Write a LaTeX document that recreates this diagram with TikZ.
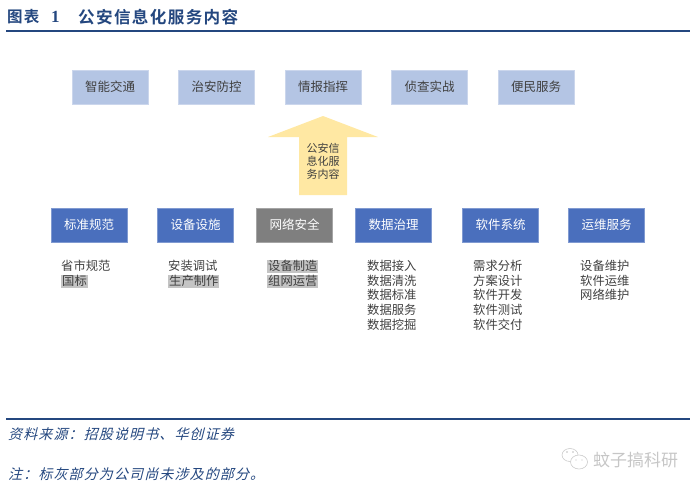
\documentclass[tikz,border=0pt]{standalone}
\usepackage{fontspec}
\setmainfont{Noto Sans CJK SC}
\newfontfamily\titlefont[LetterSpace=8]{Noto Sans CJK SC Bold}
\newfontfamily\numfont{Liberation Serif}
\newfontfamily\notefont[FakeSlant=0.25,LetterSpace=8]{Noto Sans CJK SC}
\definecolor{ruleblue}{HTML}{24477F}
\definecolor{paleblue}{HTML}{B4C5E4}
\definecolor{midblue}{HTML}{4A6FBD}
\definecolor{midgray}{HTML}{7F7F7F}
\definecolor{palegold}{HTML}{FFE8A3}
\definecolor{textgray}{HTML}{404040}
\definecolor{markgray}{HTML}{C4C4C4}
\tikzset{
	topbox/.style={rectangle, fill=paleblue, draw=paleblue!70!white, line width=0.6pt, minimum width=76, minimum height=34, inner sep=0, text=textgray, font=\fontsize{12.5}{12.5}\selectfont},
	basebox/.style={rectangle, fill=midblue, draw=midblue!70!white, line width=0.6pt, minimum width=76, minimum height=34, inner sep=0, text=white, font=\fontsize{12.5}{12.5}\selectfont},
	graybox/.style={basebox, fill=midgray, draw=midgray!70!white},
	item/.style={anchor=west, inner sep=0, text=textgray, font=\fontsize{12.3}{12.3}\selectfont},
	markitem/.style={item, fill=markgray, inner xsep=1, inner ysep=0.5, text height=10.5, text depth=1.5},
	toprule/.style={draw=ruleblue, line width=1.6},
	note/.style={anchor=west, inner sep=0, text=ruleblue, font=\fontsize{14}{14}\notefont}
}
\begin{document}
\begin{tikzpicture}[x=1pt, y=-1pt]
	%%%%% START %%%%%
	\useasboundingbox (0, 0) rectangle (700, 490);

	% header
	\coordinate (headl) at (6, 31);
	\coordinate (headr) at (690, 31);
	\draw[toprule] (headl) -- (headr);
	\node[anchor=west, inner sep=0, text=ruleblue] (fignum) at (7, 17) {\fontsize{15.5}{15.5}\titlefont 图表};
	\node[anchor=west, inner sep=0, text=ruleblue] (fignr) at (51, 17) {\fontsize{17}{17}\numfont\bfseries 1};
	\node[anchor=west, inner sep=0, text=ruleblue] (figtitle) at (78, 17) {\fontsize{16.6}{16.6}\titlefont 公安信息化服务内容};

	% upper row
	\node[topbox] (traffic) at (110, 87) {智能交通};
	\node[topbox] (security) at (216.5, 87) {治安防控};
	\node[topbox] (command) at (323, 87) {情报指挥};
	\node[topbox] (combat) at (429.5, 87) {侦查实战};
	\node[topbox] (civil) at (536, 87) {便民服务};

	% big arrow
	\fill[palegold] (323, 116) -- (378, 137) -- (347, 137) -- (347, 195) -- (299, 195) -- (299, 137) -- (268, 137) -- cycle;
	\node[align=center, inner sep=0, text=textgray, font=\fontsize{11}{12.7}\selectfont] (arrowtext) at (323, 161.5) {公安信\\息化服\\务内容};

	% lower row
	\node[basebox] (standard) at (89, 225) {标准规范};
	\node[basebox] (device) at (195.5, 225) {设备设施};
	\node[graybox] (network) at (294.5, 225) {网络安全};
	\node[basebox] (data) at (393.5, 225) {数据治理};
	\node[basebox] (software) at (500.5, 225) {软件系统};
	\node[basebox] (operate) at (606.5, 225) {运维服务};

	% lists
	\node[item] (standa) at (61, 266) {省市规范};
	\node[markitem] (standb) at (61, 281) {国标};

	\node[item] (devica) at (168, 266) {安装调试};
	\node[markitem] (devicb) at (168, 281) {生产制作};

	\node[markitem] (netwa) at (267, 266) {设备制造};
	\node[markitem] (netwb) at (267, 281) {组网运营};

	\node[item] (dataa) at (367, 266) {数据接入};
	\node[item] (datab) at (367, 281) {数据清洗};
	\node[item] (datac) at (367, 295) {数据标准};
	\node[item] (datad) at (367, 310) {数据服务};
	\node[item] (datae) at (367, 325) {数据挖掘};

	\node[item] (softa) at (473, 266) {需求分析};
	\node[item] (softb) at (473, 281) {方案设计};
	\node[item] (softc) at (473, 295) {软件开发};
	\node[item] (softd) at (473, 310) {软件测试};
	\node[item] (softe) at (473, 325) {软件交付};

	\node[item] (operb) at (580, 266) {设备维护};
	\node[item] (operc) at (580, 281) {软件运维};
	\node[item] (operd) at (580, 295) {网络维护};

	% footer
	\coordinate (footl) at (6, 419);
	\coordinate (footr) at (690, 419);
	\draw[toprule] (footl) -- (footr);
	\node[note] (source) at (8, 434) {资料来源：招股说明书、华创证券};
	\node[note] (remark) at (8, 474) {注：标灰部分为公司尚未涉及的部分。};

	% watermark
	\draw[gray!40, fill=white, line width=0.6pt] (570, 455) ellipse (8 and 6.5);
	\draw[gray!40, fill=white, line width=0.6pt] (579, 462) ellipse (8.5 and 7);
	\fill[gray!50] (567, 452) circle (0.8) (573, 452) circle (0.8) (576, 460) circle (0.7) (582, 460) circle (0.7);
	\node[anchor=west, inner sep=0, text=gray!45, font=\fontsize{17}{17}\selectfont] (mark) at (593, 460) {蚊子搞科研};
	%%%%% END %%%%%
\end{tikzpicture}
\end{document}
